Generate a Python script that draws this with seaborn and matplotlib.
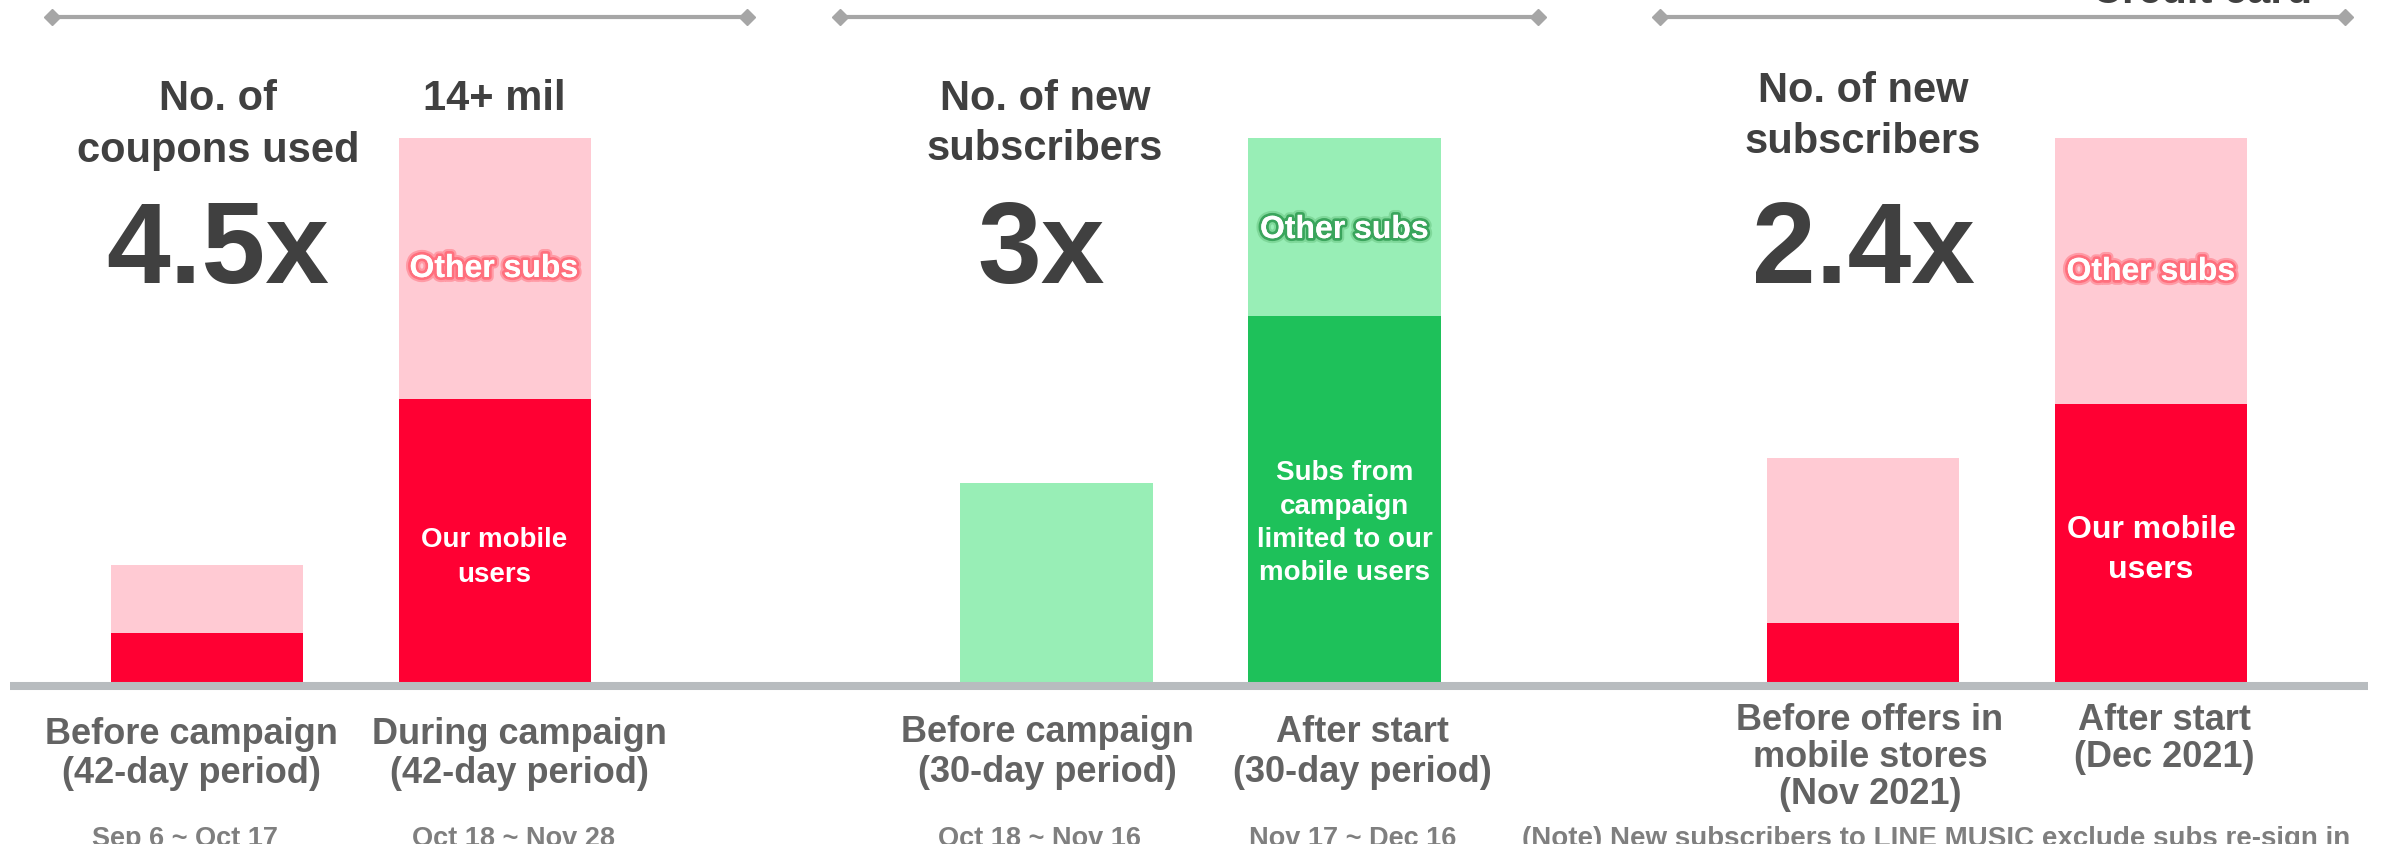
import matplotlib
matplotlib.use("Agg")
import matplotlib.pyplot as plt
from matplotlib.lines import Line2D
import matplotlib.patheffects as pe
import seaborn as sns

# ---- data -------------------------------------------------------------
coupon_periods = ["Before campaign", "During campaign"]
coupon_total = [3.0, 14.0]          # coupons used, millions
coupon_mobile = [1.26, 7.28]        # of which: our mobile users

sub_periods = ["Before campaign", "After start"]
sub_total = [36.5, 100.0]           # new subscribers, index (after start = 100)
sub_campaign = [0.0, 67.2]          # subs from campaign limited to our mobile users

store_periods = ["Before offers", "After start"]
store_total = [41.1, 100.0]         # new subscribers, index (Dec 2021 = 100)
store_mobile = [10.8, 51.1]         # of which: our mobile users

headlines = ["4.5x", "3x", "2.4x"]
coupon_labels = [["Before campaign", "(42-day period)"], ["During campaign", "(42-day period)"]]
coupon_dates = ["Sep 6 ~ Oct 17", "Oct 18 ~ Nov 28"]
sub_labels = [["Before campaign", "(30-day period)"], ["After start", "(30-day period)"]]
sub_dates = ["Oct 18 ~ Nov 16", "Nov 17 ~ Dec 16"]
store_labels = [["Before offers in", "mobile stores", "(Nov 2021)"], ["After start", "(Dec 2021)"]]
note_text = "(Note) New subscribers to LINE MUSIC exclude subs re-sign in"

# ---- style ------------------------------------------------------------
RED = "#ff0033"
PINK = "#ffcad3"
GREEN = "#1ec15a"
LGREEN = "#98eeb6"
DARK = "#404040"
MID = "#636363"
LIGHT = "#7f7f7f"
RULE = "#a6a6a6"
BASE = "#b8bcbf"

sns.set_theme(style="white")
plt.rcParams["font.family"] = ["Liberation Sans", "DejaVu Sans"]

W, H, DPI = 2384, 844, 100
fig = plt.figure(figsize=(W / DPI, H / DPI), dpi=DPI)
fig.patch.set_facecolor("white")


def px_axes(cx0, cx1, top, bottom):
    """Axes whose two category slots are centred on pixel columns cx0, cx1."""
    step = cx1 - cx0
    left = cx0 - step / 2
    right = cx1 + step / 2
    return fig.add_axes([left / W, 1 - bottom / H, (right - left) / W, (bottom - top) / H])


def stacked(ax, cats, total, inner, c_total, c_inner):
    sns.barplot(x=cats, y=total, color=c_total, width=0.667, saturation=1,
                errorbar=None, linewidth=0, ax=ax)
    sns.barplot(x=cats, y=inner, color=c_inner, width=0.667, saturation=1,
                errorbar=None, linewidth=0, ax=ax)
    ax.set_xlim(-0.5, 1.5)
    ax.set_ylim(0, max(total))
    ax.axis("off")
    for p in ax.patches:
        p.set_clip_on(False)


def txt(x, y, s, size, color, ha="center", **kw):
    return fig.text(x / W, 1 - y / H, s, fontsize=size, color=color, ha=ha,
                    va="baseline", fontweight="bold", **kw)


BASELINE_Y = 682
TOP_Y = 137.5

ax1 = px_axes(207, 495, TOP_Y, BASELINE_Y)
stacked(ax1, coupon_periods, coupon_total, coupon_mobile, PINK, RED)
ax2 = px_axes(1056.5, 1344.5, TOP_Y, BASELINE_Y)
stacked(ax2, sub_periods, sub_total, sub_campaign, LGREEN, GREEN)
ax3 = px_axes(1863, 2151, TOP_Y, BASELINE_Y)
stacked(ax3, store_periods, store_total, store_mobile, PINK, RED)

# ground line under all bars
fig.add_artist(Line2D([10 / W, 2368 / W], [1 - 686 / H] * 2, color=BASE,
                      lw=5.8, solid_capstyle="butt", transform=fig.transFigure))

# section rules with diamond ends
for x0, x1 in [(52, 747), (840, 1538), (1660, 2345)]:
    fig.add_artist(Line2D([x0 / W, x1 / W], [1 - 17 / H] * 2, color=RULE, lw=3,
                          marker="D", markersize=8, markerfacecolor=RULE,
                          markeredgecolor=RULE, transform=fig.transFigure))

# section title cut by the top edge
txt(2202, 3, "Credit card", 30, DARK)

# headings
txt(218, 110, "No. of", 30, DARK)
txt(218, 162, "coupons used", 30, DARK)
txt(494, 110, "14+ mil", 30, DARK)
txt(1045, 110, "No. of new", 30, DARK)
txt(1045, 160, "subscribers", 30, DARK)
txt(1863, 102, "No. of new", 30, DARK)
txt(1863, 153, "subscribers", 30, DARK)

# multipliers
for x, s in zip([217.5, 1041.5, 1863], headlines):
    txt(x, 283, s, 82.5, DARK)

# labels inside the bars
glow_red = [pe.withStroke(linewidth=7, foreground="#ff9aa5"),
            pe.withStroke(linewidth=4, foreground="#ff6f7d"), pe.Normal()]
glow_green = [pe.withStroke(linewidth=7, foreground="#7fd89a"),
              pe.withStroke(linewidth=4, foreground="#3aa55c"), pe.Normal()]
txt(494, 277, "Other subs", 23, "white", path_effects=glow_red)
txt(1344.5, 238, "Other subs", 23, "white", path_effects=glow_green)
txt(2151, 280, "Other subs", 23, "white", path_effects=glow_red)

txt(494, 547, "Our mobile", 20, "white")
txt(494, 582, "users", 20, "white")
txt(2151, 538, "Our mobile", 23, "white")
txt(2151, 578, "users", 23, "white")
for i, s in enumerate(["Subs from", "campaign", "limited to our", "mobile users"]):
    txt(1344.5, 480 + 33.5 * i, s, 20, "white")

# category labels
for x, lines in zip([191, 519], coupon_labels):
    for j, s in enumerate(lines):
        txt(x, 744 + 39 * j, s, 26, MID)
for x, lines in zip([1047, 1362], sub_labels):
    for j, s in enumerate(lines):
        txt(x, 742 + 40 * j, s, 26, MID)
for x, lines in zip([1870, 2164], store_labels):
    for j, s in enumerate(lines):
        txt(x, 730 + 37 * j, s, 26, MID)

# date ranges
for x, s in zip([185, 514, 1040, 1353], coupon_dates + sub_dates):
    txt(x, 846, s, 19.5, LIGHT)

# footnote
txt(1522, 846, note_text, 20, LIGHT, ha="left")

fig.savefig("out.png", dpi=DPI, facecolor="white")
